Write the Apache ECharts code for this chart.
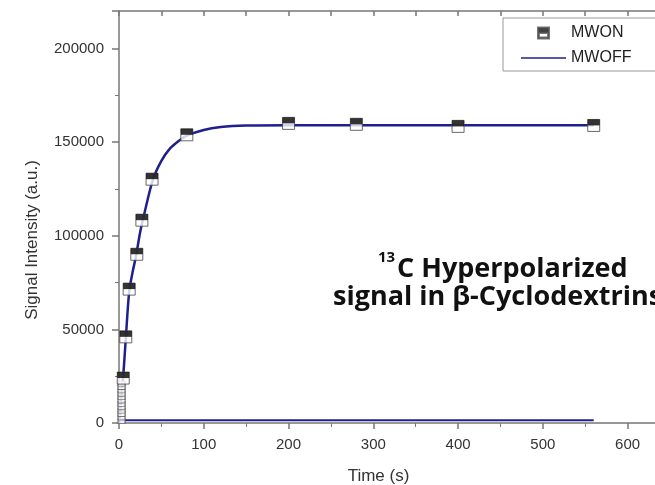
<!DOCTYPE html>
<html>
<head>
<meta charset="utf-8">
<script src="https://cdn.jsdelivr.net/npm/echarts@6/dist/echarts.min.js"></script>
<style>
  html, body { margin: 0; padding: 0; background: #fff; }
  #chart { width: 655px; height: 485px; }
</style>
</head>
<body>
<div id="chart"></div>
<script>
// fitted build-up curve
var fitTime = [0, 1, 2, 3, 4, 5, 8, 12, 16, 20, 25, 30, 40, 50, 60, 70, 80, 100, 120, 150, 200, 560];
var fitSignal = [0, 3000, 9000, 16000, 21000, 25000, 45000, 70000, 80500, 89000, 102000, 112000, 130000, 140000, 146500, 150500, 153500, 156500, 158000, 158800, 159000, 159000];

// MWON measured points
var onTime = [5, 8, 12, 21, 27, 39, 80, 200, 280, 400, 560];
var onSignal = [24000, 46000, 71500, 90100, 108300, 130200, 153900, 160000, 159500, 158400, 158900];

// early hollow points stacked near t = 0
var earlyTime = [3, 3, 3, 3, 3, 3, 3, 3, 3, 3, 3, 3];
var earlySignal = [1000, 3000, 4800, 6600, 8400, 10200, 12000, 13800, 15600, 17400, 19200, 21000];

// MWOFF trace
var offTime = [0, 5, 10, 20, 40, 80, 200, 280, 400, 560];
var offSignal = [1500, 1500, 1500, 1500, 1500, 1500, 1500, 1500, 1500, 1500];

function pairs(xs, ys) {
    return xs.map(function (x, i) { return [x, ys[i]]; });
}

var navy = '#1f1f8f';
var axisGray = '#777';
var font = 'Liberation Sans';
var halfSquare = 'path://M0,0H12V12H0Z M1,6V11H11V6Z';
var lineIcon = 'path://M0,0H45V1.6H0Z';

var chart = echarts.init(document.getElementById('chart'));
chart.setOption({
    backgroundColor: '#fff',
    animation: false,
    grid: { left: 119, top: 11, width: 551, bottom: 62, show: false, outerBoundsMode: 'none', containLabel: false },
    legend: {
        orient: 'vertical',
        left: 503,
        top: 18,
        itemWidth: 45,
        itemHeight: 11,
        itemGap: 9,
        padding: [7, 40, 5, 18],
        borderColor: '#999',
        borderWidth: 1,
        backgroundColor: '#fff',
        textStyle: { fontFamily: font, fontSize: 16, color: '#222' },
        data: [
            { name: 'MWON', icon: halfSquare, itemStyle: { color: '#111' } },
            { name: 'MWOFF', icon: lineIcon, itemStyle: { color: navy } }
        ]
    },
    xAxis: [
        {
            type: 'value',
            min: 0,
            max: 650,
            interval: 100,
            name: 'Time (s)',
            nameLocation: 'middle',
            nameGap: 45,
            nameTextStyle: { fontFamily: font, fontSize: 17, color: '#333', padding: [0, 32, 0, 0] },
            axisLine: { lineStyle: { color: axisGray, width: 1.5 } },
            axisTick: { length: 6, lineStyle: { color: axisGray, width: 1.5 } },
            minorTick: { show: true, splitNumber: 2, length: 4, lineStyle: { color: axisGray } },
            axisLabel: { fontFamily: font, fontSize: 15, color: '#333', margin: 14 },
            splitLine: { show: false }
        },
        {
            type: 'value',
            position: 'top',
            min: 0,
            max: 650,
            interval: 50,
            axisLine: { show: true, lineStyle: { color: axisGray, width: 1.5 } },
            axisTick: { inside: true, length: 5, lineStyle: { color: axisGray, width: 1.5 } },
            axisLabel: { show: false },
            splitLine: { show: false }
        }
    ],
    yAxis: {
        type: 'value',
        min: 0,
        max: 220000,
        interval: 50000,
        name: 'Signal Intensity (a.u.)',
        nameLocation: 'middle',
        nameGap: 78,
        nameTextStyle: { fontFamily: font, fontSize: 17, color: '#333', padding: [0, 46, 0, 0] },
        axisLine: { show: true, lineStyle: { color: axisGray, width: 1.5 } },
        axisTick: { length: 7, lineStyle: { color: axisGray, width: 1.5 } },
        minorTick: { show: true, splitNumber: 2, length: 4, lineStyle: { color: axisGray } },
        axisLabel: {
            fontFamily: font, fontSize: 15, color: '#333', margin: 15, showMaxLabel: false,
            formatter: function (v) { return String(v); }
        },
        splitLine: { show: false }
    },
    series: [
        {
            name: 'MWOFF',
            type: 'line',
            data: pairs(offTime, offSignal),
            symbol: 'none',
            lineStyle: { color: navy, width: 2 },
            itemStyle: { color: navy },
            z: 2
        },
        {
            name: 'fit',
            type: 'line',
            data: pairs(fitTime, fitSignal),
            symbol: 'none',
            smooth: 0.3,
            lineStyle: { color: navy, width: 2.5 },
            z: 3
        },
        {
            name: 'MWON',
            type: 'scatter',
            data: pairs(earlyTime, earlySignal),
            symbol: 'rect',
            symbolSize: [7, 5],
            itemStyle: { color: '#fff', borderColor: '#555', borderWidth: 1 },
            z: 4
        },
        {
            name: 'MWON',
            type: 'scatter',
            data: pairs(onTime, onSignal),
            symbol: 'rect',
            symbolSize: 12,
            itemStyle: { color: '#fff', borderColor: '#444', borderWidth: 1 },
            z: 5
        },
        {
            name: 'MWON',
            type: 'scatter',
            data: pairs(onTime, onSignal),
            symbol: 'rect',
            symbolSize: [12, 6],
            symbolOffset: [0, -3],
            itemStyle: { color: '#000' },
            z: 6
        }
    ],
    graphic: [
        {
            type: 'text',
            left: 378,
            top: 250,
            style: { text: '13', font: 'bold 15px "Open Sans"', fill: '#111' }
        },
        {
            type: 'text',
            left: 397,
            top: 256,
            style: { text: 'C Hyperpolarized', font: 'bold 27px "Open Sans"', fill: '#111' }
        },
        {
            type: 'text',
            left: 333,
            top: 284,
            style: { text: 'signal in β-Cyclodextrins', font: 'bold 27px "Open Sans"', fill: '#111' }
        }
    ]
});
</script>
</body>
</html>
